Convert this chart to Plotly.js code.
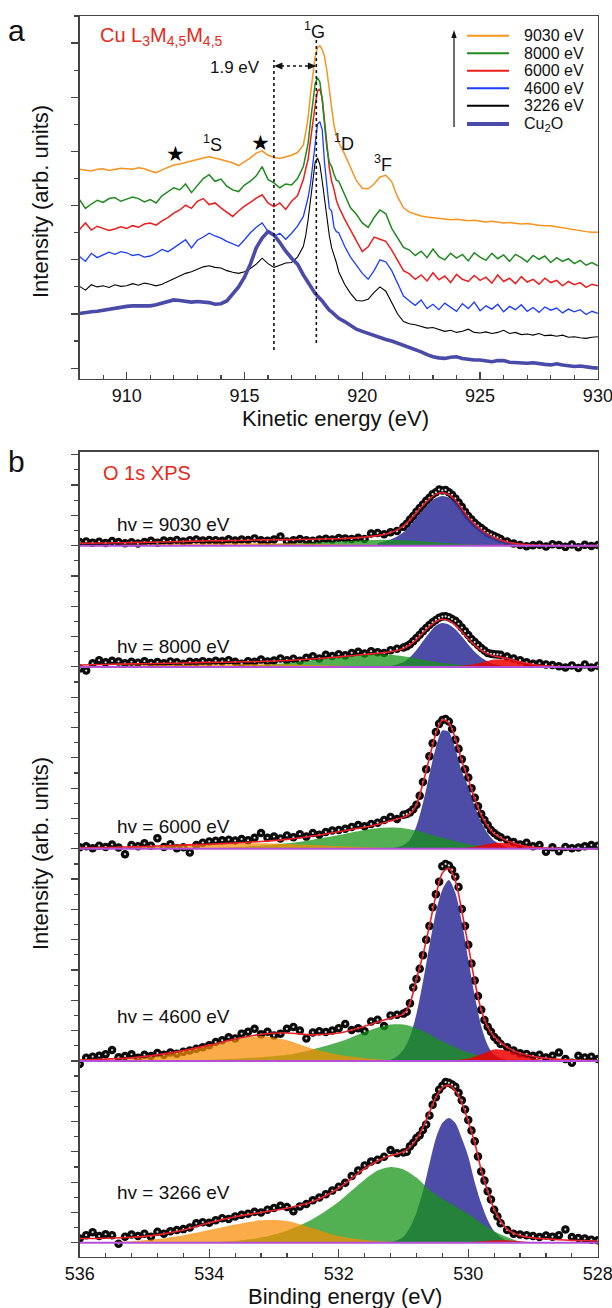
<!DOCTYPE html>
<html><head><meta charset="utf-8">
<script src="https://cdn.plot.ly/plotly-3.0.1.min.js"></script>
<style>html,body{margin:0;padding:0;background:#fff}</style>
</head><body><div id="chart" style="width:612px;height:1308px"></div>
<script>
// ---------- Panel a: Cu L3M45M45 Auger spectra (kinetic energy, eV) ----------
const KE = [908,908.25,908.5,908.75,909,909.25,909.5,909.75,910,910.25,
910.5,910.75,911,911.25,911.5,911.75,912,912.25,912.5,912.75,
913,913.25,913.5,913.75,914,914.25,914.5,914.75,915,915.25,
915.5,915.75,916,916.25,916.5,916.75,917,917.25,917.5,
917.6,917.7,917.8,917.9,918,918.1,918.2,918.3,918.4,918.5,918.6,918.7,918.8,918.9,919,
919.25,919.5,919.75,920,920.25,920.5,920.75,921,921.25,921.5,921.75,922,922.25,922.5,922.75,923,
923.25,923.5,923.75,924,924.25,924.5,924.75,925,925.25,925.5,925.75,926,926.25,926.5,926.75,927,
927.25,927.5,927.75,928,928.25,928.5,928.75,929,929.25,929.5,929.75,930];

const I_9030 = [3.67,3.66,3.64,3.67,3.68,3.65,3.67,3.69,3.68,3.67,
3.70,3.68,3.64,3.61,3.66,3.71,3.75,3.77,3.80,3.83,
3.86,3.88,3.90,3.88,3.85,3.82,3.79,3.74,3.81,3.88,
3.97,4.01,3.93,3.89,3.87,3.90,3.93,3.98,4.12,
4.35,4.62,5.05,5.46,5.75,5.92,5.95,5.88,5.75,5.48,5.15,4.78,4.48,4.30,4.17,
3.95,3.70,3.46,3.32,3.31,3.40,3.53,3.56,3.44,3.16,2.96,2.88,2.84,2.81,2.79,2.78,
2.76,2.76,2.74,2.75,2.73,2.72,2.73,2.71,2.70,2.71,2.69,2.68,2.69,2.67,2.66,2.67,
2.65,2.64,2.63,2.63,2.61,2.59,2.58,2.56,2.54,2.52,2.51,2.51];

const I_8000 = [3.11,2.95,3.03,3.10,3.06,3.13,3.15,3.08,3.12,3.16,
3.13,3.07,3.11,3.05,3.18,3.26,3.33,3.29,3.40,3.24,
3.38,3.50,3.57,3.45,3.49,3.36,3.29,3.26,3.38,3.45,
3.55,3.72,3.48,3.42,3.33,3.40,3.38,3.50,3.72,
3.95,4.15,4.55,4.96,5.25,5.36,5.28,4.95,4.53,4.05,3.80,3.72,3.58,3.47,3.45,
3.20,2.96,2.84,2.68,2.60,2.78,2.92,2.85,2.58,2.40,2.23,
2.18,2.08,2.16,2.04,2.20,2.06,2.00,2.12,2.03,2.10,1.98,2.13,2.05,1.99,2.12,2.02,2.09,
1.97,2.10,2.04,1.96,2.08,2.01,2.07,1.95,2.04,1.97,2.02,1.93,1.99,1.90,1.95,1.89];

const I_6000 = [2.56,2.68,2.55,2.62,2.58,2.54,2.57,2.61,2.58,2.63,
2.60,2.66,2.68,2.64,2.72,2.78,2.86,2.92,3.01,2.95,
3.08,3.13,3.02,3.05,2.96,2.88,2.80,2.90,2.99,3.06,
3.14,3.20,3.05,2.98,3.05,2.93,3.08,3.18,3.48,
3.68,3.85,4.20,4.55,4.85,5.12,5.15,4.98,4.55,4.12,3.70,3.45,3.30,3.10,2.98,
2.75,2.55,2.35,2.15,2.24,2.42,2.38,2.34,2.18,1.98,1.80,
1.74,1.64,1.72,1.61,1.76,1.63,1.70,1.58,1.73,1.64,1.60,1.71,1.62,1.68,1.57,1.72,1.60,
1.66,1.56,1.69,1.59,1.64,1.55,1.66,1.58,1.62,1.52,1.60,1.54,1.58,1.49,1.55,1.52];

const I_4600 = [2.06,1.97,2.12,2.04,2.09,2.14,2.10,2.15,2.13,2.08,
2.10,2.05,2.07,2.12,2.19,2.15,2.22,2.30,2.37,2.22,
2.36,2.42,2.49,2.44,2.40,2.34,2.30,2.25,2.37,2.50,
2.60,2.68,2.52,2.43,2.49,2.38,2.49,2.62,2.80,
2.95,3.15,3.40,3.75,4.20,4.50,4.55,4.40,3.78,3.30,2.95,2.90,2.60,2.52,2.50,
2.25,2.05,1.90,1.75,1.64,1.80,2.00,1.96,1.80,1.55,1.33,
1.24,1.16,1.26,1.10,1.18,1.08,1.20,1.12,1.05,1.19,1.10,1.22,1.06,1.15,1.09,1.18,1.04,
1.14,1.08,1.17,1.05,1.12,1.03,1.13,1.07,1.11,1.02,1.09,1.04,1.08,0.99,1.05,1.01];

const I_3226 = [1.51,1.44,1.54,1.50,1.52,1.49,1.54,1.51,1.52,1.56,
1.53,1.57,1.55,1.52,1.55,1.60,1.66,1.70,1.75,1.78,
1.82,1.87,1.89,1.86,1.85,1.80,1.77,1.75,1.78,1.84,
1.92,2.03,1.93,1.86,1.90,1.94,1.95,2.05,2.25,
2.45,2.74,3.10,3.48,3.80,3.88,3.76,3.45,3.10,2.75,2.45,2.22,2.10,1.95,1.78,
1.55,1.38,1.25,1.24,1.27,1.40,1.50,1.42,1.22,1.00,0.86,0.82,0.80,0.77,0.74,0.75,
0.71,0.68,0.70,0.66,0.68,0.72,0.66,0.65,0.67,0.64,0.66,0.70,0.64,0.66,0.62,0.63,
0.61,0.64,0.60,0.61,0.59,0.61,0.57,0.58,0.56,0.55,0.57,0.58];

const I_CU2O = [1.01,1.03,1.04,1.05,1.07,1.09,1.10,1.12,1.14,1.15,
1.15,1.16,1.15,1.17,1.20,1.23,1.26,1.25,1.23,1.22,
1.23,1.22,1.21,1.18,1.19,1.24,1.38,1.50,1.68,1.92,
2.22,2.40,2.52,2.46,2.32,2.16,2.03,1.92,1.72,
1.65,1.58,1.50,1.43,1.38,1.33,1.29,1.24,1.18,1.12,1.07,1.04,1.00,0.96,0.92,
0.86,0.79,0.72,0.68,0.64,0.60,0.56,0.53,0.50,0.46,0.43,0.38,0.34,0.30,0.25,0.21,
0.19,0.18,0.20,0.21,0.18,0.16,0.15,0.15,0.13,0.12,0.14,0.14,0.11,0.10,0.09,0.09,
0.10,0.08,0.07,0.06,0.08,0.06,0.05,0.03,0.04,0.02,0.01,0.00];

const AUGER_LABELS = ['9030 eV','8000 eV','6000 eV','4600 eV','3226 eV','Cu<sub>2</sub>O'];
const PEAK_1G = 918.05;      // 1G peak position (eV)
const PEAK_CU2O = 916.25;    // Cu2O main peak (eV)

// ---------- Panel b: O 1s XPS (binding energy, eV) ----------
const BE_DATA = [536.0,535.9,535.8,535.7,535.6,535.5,535.4,535.3,535.2,535.1,
535.0,534.9,534.8,534.7,534.6,534.5,534.4,534.3,534.2,534.1,
534.0,533.9,533.8,533.7,533.6,533.5,533.4,533.3,533.2,533.1,
533.0,532.9,532.8,532.7,532.6,532.5,532.4,532.3,532.2,532.1,
532.0,531.9,531.8,531.7,531.6,531.5,531.4,531.3,531.2,531.1,
531.0,530.95,530.9,530.85,530.8,530.75,530.7,530.65,530.6,530.55,
530.5,530.45,530.4,530.35,530.3,530.25,530.2,530.15,530.1,530.05,
530.0,529.95,529.9,529.85,529.8,529.75,529.7,529.65,529.6,529.55,
529.5,529.4,529.3,529.2,529.1,529.0,528.9,528.8,528.7,528.6,
528.5,528.4,528.3,528.2,528.1,528.0];
const BE_FIT = [536,535.6,535.2,534.8,534.4,534.0,533.6,533.2,532.8,532.4,
532.0,531.8,531.6,531.4,531.3,531.2,531.1,531.0,530.9,530.8,
530.7,530.6,530.5,530.4,530.3,530.2,530.1,530.0,529.9,529.8,
529.7,529.6,529.4,529.2,529.0,528.6,528.0];
const BE_BLUE = [531.4,531.2,531.1,531.0,530.9,530.8,530.7,530.6,530.5,530.4,
530.3,530.2,530.1,530.0,529.9,529.8,529.7,529.6,529.4,529.2,529.0];
const BE_GREEN = [534.0,533.6,533.2,532.8,532.4,532.0,531.8,531.6,531.4,531.2,
531.0,530.8,530.6,530.4,530.0,529.6,529.2,528.8];
const BE_ORANGE = [536.0,535.6,535.2,534.8,534.4,534.0,533.6,533.2,532.8,532.4,
532.0,531.6,531.2,530.8,530.4];
const BE_RED = [530.4,530.2,530.0,529.8,529.6,529.4,529.2,529.0,528.8,528.6];

// hv = 9030 eV
const D_9030 = [0.12,0.14,0.10,0.13,0.09,0.15,0.12,0.08,0.11,0.07,
0.12,0.16,0.10,0.17,0.15,0.19,0.14,0.18,0.20,0.17,
0.19,0.18,0.16,0.21,0.17,0.20,0.19,0.24,0.18,0.16,
0.20,0.30,0.14,0.18,0.22,0.18,0.16,0.20,0.23,0.20,
0.25,0.24,0.22,0.26,0.22,0.40,0.42,0.38,0.44,0.48,
0.62,0.72,0.86,0.98,1.12,1.24,1.36,1.48,1.58,1.70,
1.76,1.85,1.82,1.84,1.76,1.68,1.56,1.42,1.28,1.12,
0.98,0.86,0.75,0.66,0.58,0.50,0.42,0.37,0.32,0.27,
0.22,0.14,0.07,0.02,-0.02,0.01,0.03,-0.03,0.05,0.02,
-0.04,0.04,-0.05,0.03,-0.01,0.02];
const F_9030 = [0.08,0.09,0.10,0.12,0.14,0.16,0.17,0.19,0.20,0.21,
0.23,0.25,0.28,0.33,0.37,0.43,0.52,0.65,0.85,1.09,
1.33,1.54,1.70,1.75,1.68,1.50,1.22,0.94,0.71,0.53,
0.38,0.27,0.12,0.05,0.02,0.00,0.00];
const B_9030 = [0.08,0.20,0.30,0.44,0.65,0.92,1.18,1.40,1.57,1.64,1.59,1.43,1.16,0.89,0.67,0.50,0.36,0.25,0.11,0.04,0.01];
const G_9030 = [0.01,0.02,0.04,0.07,0.10,0.14,0.16,0.18,0.19,0.19,0.18,0.16,0.13,0.10,0.05,0.02,0.00,0.00];
const O_9030 = [0.01,0.02,0.03,0.05,0.06,0.07,0.08,0.08,0.07,0.06,0.04,0.03,0.02,0.01,0.00];
const R_9030 = [0.00,0.00,0.01,0.02,0.03,0.03,0.02,0.01,0.00,0.00];

// hv = 8000 eV
const D_8000 = [-0.05,-0.12,0.12,0.22,0.15,0.20,0.18,0.12,0.17,0.14,
0.19,0.13,0.16,0.12,0.18,0.15,0.10,0.17,0.15,0.19,
0.16,0.20,0.18,0.22,0.17,0.10,0.19,0.17,0.24,0.18,
0.21,0.28,0.22,0.27,0.20,0.30,0.35,0.28,0.40,0.36,
0.42,0.38,0.46,0.50,0.44,0.52,0.48,0.46,0.55,0.60,
0.64,0.68,0.75,0.85,0.95,1.06,1.18,1.28,1.38,1.47,
1.55,1.62,1.66,1.67,1.64,1.58,1.52,1.42,1.30,1.18,
1.05,0.92,0.82,0.72,0.62,0.54,0.46,0.43,0.42,0.41,
0.40,0.34,0.28,0.22,0.15,0.10,0.12,0.08,0.06,0.02,
-0.02,0.05,-0.04,0.08,-0.02,0.04];
const F_8000 = [0.06,0.08,0.10,0.11,0.13,0.15,0.16,0.18,0.21,0.26,
0.33,0.37,0.41,0.45,0.47,0.50,0.54,0.61,0.73,0.90,
1.12,1.33,1.50,1.57,1.52,1.38,1.16,0.93,0.72,0.55,
0.43,0.36,0.28,0.17,0.08,0.01,0.00];
const B_8000 = [0.00,0.03,0.08,0.16,0.32,0.56,0.85,1.13,1.36,1.45,1.40,1.24,1.00,0.74,0.50,0.31,0.18,0.09,0.02,0.00,0.00];
const G_8000 = [0.01,0.03,0.07,0.13,0.22,0.32,0.37,0.41,0.42,0.40,0.35,0.28,0.20,0.13,0.05,0.01,0.00,0.00];
const O_8000 = [0.02,0.03,0.04,0.06,0.07,0.08,0.09,0.09,0.08,0.06,0.04,0.02,0.01,0.00,0.00];
const R_8000 = [0.00,0.02,0.06,0.14,0.24,0.25,0.16,0.07,0.02,0.00];

// hv = 6000 eV
const D_6000 = [0.05,0.08,0.02,0.10,0.06,0.14,0.04,-0.18,0.12,0.08,
0.18,0.10,0.35,0.06,0.15,0.02,0.05,-0.12,0.12,0.20,
0.24,0.26,0.28,0.30,0.27,0.32,0.28,0.36,0.52,0.36,
0.40,0.34,0.44,0.38,0.48,0.40,0.52,0.46,0.55,0.60,
0.62,0.66,0.72,0.78,0.74,0.82,0.86,0.95,1.05,0.98,
1.12,1.15,1.20,1.30,1.45,1.75,2.20,2.62,3.05,3.48,
3.85,4.12,4.25,4.28,4.20,3.95,3.60,3.30,2.95,2.62,
2.35,2.00,1.68,1.40,1.15,0.95,0.78,0.62,0.52,0.44,
0.38,0.30,0.22,0.14,0.20,0.08,0.12,-0.10,0.05,-0.08,
0.06,0.02,0.04,0.08,0.12,0.10];
const F_6000 = [0.03,0.04,0.06,0.09,0.12,0.15,0.19,0.24,0.31,0.42,
0.56,0.64,0.71,0.80,0.86,0.92,0.98,1.04,1.15,1.45,
2.15,3.00,3.80,4.25,4.15,3.65,2.90,2.30,1.65,1.12,
0.75,0.50,0.26,0.12,0.05,0.01,0.00];
const B_6000 = [0.00,0.02,0.05,0.12,0.30,0.75,1.50,2.45,3.35,3.90,3.85,3.30,2.55,2.05,1.40,0.88,0.50,0.26,0.05,0.01,0.00];
const G_6000 = [0.02,0.05,0.10,0.18,0.30,0.45,0.54,0.62,0.68,0.70,0.68,0.60,0.48,0.36,0.15,0.05,0.01,0.00];
const O_6000 = [0.01,0.03,0.05,0.09,0.13,0.16,0.18,0.18,0.16,0.12,0.08,0.05,0.02,0.01,0.00];
const R_6000 = [0.00,0.01,0.04,0.11,0.19,0.19,0.12,0.05,0.02,0.00];

// hv = 4600 eV
const D_4600 = [-0.10,0.10,0.14,0.17,0.22,0.36,0.12,0.16,0.22,0.10,
0.20,0.16,0.26,0.20,0.28,0.24,0.30,0.34,0.40,0.45,
0.52,0.62,0.68,0.78,0.74,0.90,0.96,1.06,0.88,0.96,
0.84,0.90,1.06,1.12,1.00,0.74,0.94,0.98,0.95,1.00,
1.08,1.22,1.02,1.08,0.98,1.30,1.36,1.15,1.50,1.52,
1.56,1.62,1.90,2.42,2.70,3.04,3.49,4.00,4.45,5.07,
5.50,5.91,6.42,6.50,6.45,6.31,6.08,5.74,5.01,4.45,
3.83,3.21,2.65,2.14,1.69,1.35,1.13,0.96,0.79,0.68,
0.56,0.45,0.34,0.25,0.23,0.17,0.20,0.11,0.17,0.28,
0.06,-0.06,0.17,0.11,0.14,0.06];
const F_4600 = [0.03,0.06,0.10,0.20,0.34,0.52,0.72,0.88,0.92,0.86,
0.92,1.02,1.14,1.28,1.35,1.41,1.47,1.55,1.90,2.70,
3.50,4.45,5.45,6.20,6.36,5.95,4.95,3.80,2.62,1.68,
1.12,0.80,0.45,0.25,0.15,0.05,0.01];
const B_4600 = [0.00,0.04,0.15,0.38,0.80,1.55,2.60,3.80,4.90,5.65,5.97,5.55,4.60,3.35,2.15,1.15,0.52,0.20,0.02,0.00,0.00];
const G_4600 = [0.03,0.07,0.12,0.20,0.38,0.62,0.78,0.95,1.10,1.20,1.20,1.08,0.88,0.65,0.28,0.09,0.02,0.00];
const O_4600 = [0.00,0.02,0.06,0.16,0.32,0.52,0.70,0.82,0.68,0.40,0.20,0.09,0.03,0.01,0.00];
const R_4600 = [0.00,0.02,0.08,0.22,0.38,0.34,0.20,0.09,0.03,0.00];

// hv = 3266 eV
const D_3266 = [0.14,0.25,0.35,0.22,0.28,0.25,-0.03,0.20,0.27,0.22,
0.30,0.20,0.36,0.30,0.38,0.42,0.45,0.50,0.64,0.68,
0.66,0.74,0.81,0.78,0.87,0.92,0.96,1.02,1.00,1.09,
1.15,1.22,1.18,1.04,1.20,1.28,1.40,1.49,1.60,1.72,
1.85,1.98,2.20,2.38,2.55,2.68,2.74,2.84,3.06,2.95,
2.98,3.00,3.18,3.30,3.46,3.55,3.72,3.90,4.20,4.55,
4.80,5.05,5.18,5.30,5.28,5.22,5.15,4.95,4.70,4.40,
4.05,3.70,3.35,2.85,2.35,2.05,1.70,1.43,1.09,0.87,
0.64,0.42,0.30,0.27,0.25,0.22,0.19,0.24,0.20,0.25,
0.44,0.19,0.16,0.14,0.10,0.08];
const F_3266 = [0.14,0.15,0.18,0.26,0.42,0.66,0.86,1.00,1.14,1.36,
1.80,2.12,2.45,2.70,2.80,2.88,2.93,3.00,3.15,3.42,
3.80,4.30,4.80,5.12,5.20,5.02,4.62,4.00,3.30,2.40,
1.70,1.10,0.45,0.24,0.16,0.10,0.06];
const B_3266 = [0.00,0.03,0.08,0.20,0.50,1.00,1.70,2.60,3.45,3.95,4.12,3.95,3.45,2.85,2.00,1.30,0.75,0.38,0.06,0.01,0.00];
const G_3266 = [0.02,0.06,0.17,0.40,0.78,1.35,1.72,2.08,2.38,2.50,2.42,2.15,1.75,1.45,0.95,0.38,0.04,0.00];
const O_3266 = [0.00,0.02,0.05,0.12,0.25,0.42,0.60,0.74,0.72,0.48,0.22,0.09,0.03,0.01,0.00];
const R_3266 = [0.00,0.01,0.02,0.05,0.08,0.08,0.05,0.02,0.01,0.00];

const XPS_LABELS = ['hv = 9030 eV','hv = 8000 eV','hv = 6000 eV','hv = 4600 eV','hv = 3266 eV'];
const XPS_OFFSETS = [23, 19, 13, 6, 0];

// ---------- drawing ----------
const FONT = 'Liberation Sans, Arial, Helvetica, sans-serif';
const W = 612, H = 1308;
const PX = x => x / W, PY = y => 1 - y / H;
const traces = [];

// panel a lines (style only here)
const AUGER = [I_9030, I_8000, I_6000, I_4600, I_3226, I_CU2O];
const AUGER_COLORS = ['#f7931e', '#1f8a1f', '#ee1c1c', '#1a3cff', '#000000', '#4a4aa8'];
const AUGER_WIDTHS = [1.5, 1.5, 1.5, 1.3, 1.1, 3.6];
[4, 3, 2, 1, 0, 5].forEach(i => {
  traces.push({x: KE, y: AUGER[i], xaxis: 'x', yaxis: 'y', mode: 'lines',
    line: {color: AUGER_COLORS[i], width: AUGER_WIDTHS[i]}, showlegend: false, hoverinfo: 'skip'});
});

// panel b
const XPS = [
  {d: D_9030, f: F_9030, b: B_9030, g: G_9030, o: O_9030, r: R_9030},
  {d: D_8000, f: F_8000, b: B_8000, g: G_8000, o: O_8000, r: R_8000},
  {d: D_6000, f: F_6000, b: B_6000, g: G_6000, o: O_6000, r: R_6000},
  {d: D_4600, f: F_4600, b: B_4600, g: G_4600, o: O_4600, r: R_4600},
  {d: D_3266, f: F_3266, b: B_3266, g: G_3266, o: O_3266, r: R_3266}
];
const FILLS = ['rgba(58,58,158,0.9)', 'rgba(22,148,22,0.74)', 'rgba(246,140,0,0.72)', 'rgba(238,0,0,0.85)'];
XPS.forEach((s, i) => {
  const off = XPS_OFFSETS[i];
  const sh = a => a.map(v => v + off);
  const common = {xaxis: 'x2', yaxis: 'y2', showlegend: false, hoverinfo: 'skip'};
  traces.push(Object.assign({x: BE_DATA, y: sh(s.d), mode: 'markers',
    marker: {size: 8.5, color: '#0b0b0b', line: {width: 0}}}, common));
  traces.push(Object.assign({x: BE_DATA, y: sh(s.d), mode: 'markers',
    marker: {size: 2.2, color: 'rgba(255,255,255,0.85)', line: {width: 0}}}, common));
  [[BE_BLUE, s.b], [BE_GREEN, s.g], [BE_ORANGE, s.o], [BE_RED, s.r]].forEach(([gx, gy], k) => {
    traces.push(Object.assign({x: gx, y: gx.map(() => off), mode: 'lines', line: {width: 0}}, common));
    traces.push(Object.assign({x: gx, y: sh(gy), mode: 'lines', line: {width: 0, shape: 'spline', smoothing: 0.8},
      fill: 'tonexty', fillcolor: FILLS[k]}, common));
  });
  traces.push(Object.assign({x: BE_FIT, y: sh(s.f), mode: 'lines',
    line: {color: '#e8202a', width: 1.6, shape: 'spline', smoothing: 0.8}}, common));
});

const AX = '#444';
const tickfont = {family: FONT, size: 18, color: '#111'};
const layout = {
  width: W, height: H, margin: {l: 0, r: 0, t: 0, b: 0},
  paper_bgcolor: '#fff', plot_bgcolor: '#fff', showlegend: false,
  font: {family: FONT, color: '#111'},
  xaxis: {domain: [0.13, 0.977], anchor: 'y', range: [908, 930.002], tickmode: 'linear', tick0: 910, dtick: 5,
    ticks: 'inside', ticklen: 7, tickwidth: 1.2, tickcolor: AX, ticklabeloverflow: 'allow',
    minor: {dtick: 1, tick0: 910, ticks: 'inside', ticklen: 4, tickwidth: 1.2, tickcolor: AX, showgrid: false},
    showline: true, linecolor: AX, linewidth: 1.4, mirror: true, showgrid: false, zeroline: false, tickfont: tickfont},
  yaxis: {domain: [1 - 379 / H, 1 - 16 / H], anchor: 'x', range: [-0.2, 6.5], tickmode: 'linear', tick0: 0, dtick: 1,
    ticks: 'outside', ticklen: 7, tickwidth: 1.2, tickcolor: AX,
    minor: {dtick: 0.5, tick0: 0, ticks: 'outside', ticklen: 4, tickwidth: 1.2, tickcolor: AX, showgrid: false},
    showticklabels: false, showline: true, linecolor: AX, linewidth: 1.4, mirror: true, showgrid: false, zeroline: false},
  xaxis2: {domain: [0.13, 0.977], anchor: 'y2', range: [536.002, 527.998], tickmode: 'linear', tick0: 528, dtick: 2,
    ticks: 'inside', ticklen: 8, tickwidth: 1.2, tickcolor: AX, ticklabeloverflow: 'allow',
    minor: {dtick: 0.4, tick0: 528, ticks: 'inside', ticklen: 4.5, tickwidth: 1.2, tickcolor: AX, showgrid: false},
    showline: true, linecolor: AX, linewidth: 1.4, mirror: true, showgrid: false, zeroline: false, tickfont: tickfont},
  yaxis2: {domain: [1 - 1257 / H, 1 - 451.7 / H], anchor: 'x2', range: [-0.47, 26.1], tickmode: 'linear', tick0: 0, dtick: 1,
    ticks: 'outside', ticklen: 7, tickwidth: 1.2, tickcolor: AX,
    minor: {dtick: 0.5, tick0: 0, ticks: 'outside', ticklen: 4, tickwidth: 1.2, tickcolor: AX, showgrid: false},
    showticklabels: false, showline: true, linecolor: AX, linewidth: 1.4, mirror: true, showgrid: false, zeroline: false},
  shapes: [], annotations: []
};

const ann = layout.annotations, shp = layout.shapes;
function txt(text, x, y, size, opts) {
  ann.push(Object.assign({text: text, x: x, y: y, xref: 'paper', yref: 'paper', showarrow: false,
    font: {family: FONT, size: size, color: '#111'}, xanchor: 'center', yanchor: 'middle'}, opts || {}));
}
// panel letters and titles
txt('a', PX(16), PY(31), 30);
txt('b', PX(16), PY(461), 30);
txt('Cu L<sub>3</sub>M<sub>4,5</sub>M<sub>4,5</sub>', PX(98), PY(36), 20, {xanchor: 'left', font: {family: FONT, size: 20, color: '#e8291c'}});
txt('O 1s XPS', PX(101), PY(473), 20, {xanchor: 'left', font: {family: FONT, size: 20, color: '#e8291c'}});
txt('Kinetic energy (eV)', PX(335), PY(418), 22);
txt('Binding energy (eV)', PX(345), PY(1296), 22);
txt('Intensity (arb. units)', PX(40), PY(202), 22, {textangle: -90});
txt('Intensity (arb. units)', PX(40), PY(854), 22, {textangle: -90});
// peak labels panel a
txt('<sup>1</sup>G', PX(315), PY(31), 18);
txt('1.9 eV', PX(262), PY(67), 17, {xanchor: 'right'});
txt('<sup>1</sup>S', PX(212), PY(143), 18);
txt('<sup>1</sup>D', PX(344), PY(142), 18);
txt('<sup>3</sup>F', PX(383), PY(164), 18);
txt('\u2605', PX(175), PY(154), 21, {font: {family: 'DejaVu Sans', size: 21, color: '#000'}});
txt('\u2605', PX(260), PY(142.5), 21, {font: {family: 'DejaVu Sans', size: 21, color: '#000'}});
// dotted guide lines and the 1.9 eV double arrow (heads drawn as small triangles)
const DOT = {color: '#111', width: 1.6, dash: 'dot'};
shp.push({type: 'line', xref: 'x', yref: 'paper', x0: PEAK_CU2O, x1: PEAK_CU2O, y0: PY(350), y1: PY(60), line: DOT});
shp.push({type: 'line', xref: 'x', yref: 'paper', x0: PEAK_1G, x1: PEAK_1G, y0: PY(343), y1: PY(37), line: DOT});
shp.push({type: 'line', xref: 'x', yref: 'paper', x0: PEAK_CU2O + 0.3, x1: PEAK_1G - 0.3, y0: PY(66), y1: PY(66), line: DOT});
const HEAD = 0.36; // head length in eV
shp.push({type: 'path', xref: 'x', yref: 'paper', fillcolor: '#111', line: {width: 0},
  path: `M ${PEAK_CU2O},${PY(66)} L ${PEAK_CU2O + HEAD},${PY(62.5)} L ${PEAK_CU2O + HEAD},${PY(69.5)} Z`});
shp.push({type: 'path', xref: 'x', yref: 'paper', fillcolor: '#111', line: {width: 0},
  path: `M ${PEAK_1G},${PY(66)} L ${PEAK_1G - HEAD},${PY(62.5)} L ${PEAK_1G - HEAD},${PY(69.5)} Z`});
// legend (panel a)
const LEG_Y = [35.7, 53.3, 70.7, 88.3, 105.7, 124];
AUGER_LABELS.forEach((lab, i) => {
  shp.push({type: 'line', xref: 'paper', yref: 'paper', x0: PX(467), x1: PX(509), y0: PY(LEG_Y[i]), y1: PY(LEG_Y[i]),
    line: {color: AUGER_COLORS[i], width: i === 5 ? 4 : 2}});
  txt(lab, PX(522), PY(LEG_Y[i]), 16, {xanchor: 'left'});
});
shp.push({type: 'line', xref: 'paper', yref: 'paper', x0: PX(454), x1: PX(454), y0: PY(127), y1: PY(37), line: {color: '#111', width: 1.2}});
shp.push({type: 'path', xref: 'paper', yref: 'paper', fillcolor: '#111', line: {width: 0},
  path: `M ${PX(454)},${PY(30)} L ${PX(451.3)},${PY(38)} L ${PX(456.7)},${PY(38)} Z`});
// panel b baselines and labels
const HV_Y = [524, 646, 826, 1017, 1192];
XPS_OFFSETS.forEach((off, i) => {
  shp.push({type: 'line', xref: 'x2', yref: 'y2', x0: 536, x1: 528, y0: off, y1: off, line: {color: '#b450d8', width: 2}});
  txt(XPS_LABELS[i], PX(115), PY(HV_Y[i]), 19, {xanchor: 'left'});
});

Plotly.newPlot('chart', traces, layout, {staticPlot: true, displayModeBar: false});
</script></body></html>
